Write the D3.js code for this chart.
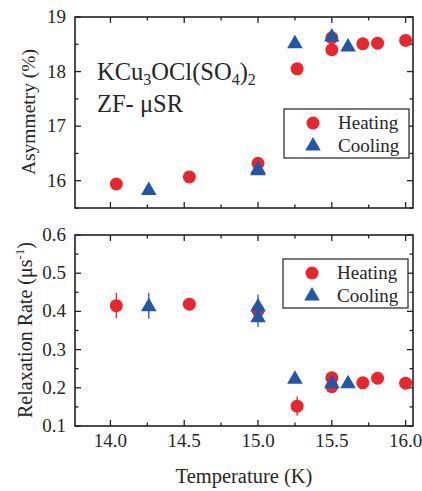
<!DOCTYPE html>
<html>
<head>
<meta charset="utf-8">
<script src="https://cdn.jsdelivr.net/npm/d3@7"></script>
<style>
  body { margin: 0; background: #fff; }
</style>
</head>
<body>
<div id="chart"></div>
<script>
// temperature (K) and measured values
const heatT = [14.04, 14.535, 15.0, 15.265, 15.5, 15.5, 15.71, 15.81, 16.0];
const heatAsym = [15.94, 16.07, 16.32, 18.05, 18.40, 18.62, 18.51, 18.52, 18.57];
const heatRate = [0.415, 0.419, 0.402, 0.152, 0.203, 0.226, 0.213, 0.225, 0.212];
const heatRateErr = [0.033, 0.004, 0.006, 0.025, 0.006, 0.006, 0.005, 0.005, 0.005];

const coolT = [14.26, 15.0, 15.0, 15.25, 15.5, 15.61];
const coolAsym = [15.84, 16.20, 16.23, 18.53, 18.65, 18.47];
const coolRate = [0.415, 0.414, 0.386, 0.225, 0.213, 0.213];
const coolRateErr = [0.034, 0.03, 0.027, 0.008, 0.01, 0.01];

const xTicks = [14.0, 14.5, 15.0, 15.5, 16.0];
const asymTicks = [16, 17, 18, 19];
const rateTicks = [0.1, 0.2, 0.3, 0.4, 0.5, 0.6];
const legendItems = ["Heating", "Cooling"];

const red = "#e8262c", blue = "#2356a6";

const svg = d3.select("#chart").append("svg")
  .attr("width", 422).attr("height", 491)
  .attr("font-family", "Liberation Serif, serif")
  .attr("fill", "#262626");

const x = d3.scaleLinear().domain([13.76, 16.05]).range([75, 413]);
const yTop = d3.scaleLinear().domain([15.5, 19]).range([208, 17]);
const yBot = d3.scaleLinear().domain([0.1, 0.6]).range([426, 235]);

const tri = d3.symbol().type(d3.symbolTriangle).size(105);

function panel(y, yTicks, yMinor, fmt, showX) {
  const g = svg.append("g");
  const [y0, y1] = y.range();
  const xMinor = d3.range(13.75, 16.06, 0.25).filter(v => v > 13.76);
  // frame
  g.append("rect").attr("x", 75).attr("y", y1).attr("width", 338).attr("height", y0 - y1)
    .attr("fill", "none").attr("stroke", "#222").attr("stroke-width", 1.6);
  // x ticks (bottom and top, inward)
  xMinor.forEach(v => {
    const major = xTicks.some(t => Math.abs(t - v) < 1e-6);
    const len = major ? 6 : 3.5;
    g.append("line").attr("x1", x(v)).attr("x2", x(v)).attr("y1", y0).attr("y2", y0 - len)
      .attr("stroke", "#222").attr("stroke-width", 1.3);
    g.append("line").attr("x1", x(v)).attr("x2", x(v)).attr("y1", y1).attr("y2", y1 + len)
      .attr("stroke", "#222").attr("stroke-width", 1.3);
  });
  yMinor.forEach(v => {
    const major = yTicks.some(t => Math.abs(t - v) < 1e-6);
    const len = major ? 6 : 3.5;
    g.append("line").attr("x1", 75).attr("x2", 75 + len).attr("y1", y(v)).attr("y2", y(v))
      .attr("stroke", "#222").attr("stroke-width", 1.3);
    g.append("line").attr("x1", 413).attr("x2", 413 - len).attr("y1", y(v)).attr("y2", y(v))
      .attr("stroke", "#222").attr("stroke-width", 1.3);
  });
  yTicks.forEach(v => {
    g.append("text").attr("x", 66).attr("y", y(v) + 6).attr("text-anchor", "end")
      .attr("font-size", 19).text(fmt(v));
  });
  if (showX) {
    xTicks.forEach(v => {
      g.append("text").attr("x", x(v)).attr("y", y0 + 21).attr("text-anchor", "middle")
        .attr("font-size", 19).text(d3.format(".1f")(v));
    });
  }
  return g;
}

function legend(g, bx, by) {
  g.append("rect").attr("x", bx).attr("y", by).attr("width", 125).attr("height", 49)
    .attr("fill", "#fff").attr("stroke", "#222").attr("stroke-width", 1.2);
  g.append("circle").attr("cx", bx + 29).attr("cy", by + 14).attr("r", 6.5).attr("fill", red);
  g.append("path").attr("d", tri).attr("transform", `translate(${bx + 29},${by + 37})`).attr("fill", blue);
  legendItems.forEach((s, i) => {
    g.append("text").attr("x", bx + 54).attr("y", by + 20 + i * 23).attr("font-size", 19).text(s);
  });
}

// ---- top panel: asymmetry
const gTop = panel(yTop, asymTicks, d3.range(15.5, 19.01, 0.5), d3.format("d"), false);
legend(gTop, 284, 109);
gTop.selectAll("circle.h").data(heatT).join("circle").attr("class", "h")
  .attr("cx", d => x(d)).attr("cy", (d, i) => yTop(heatAsym[i])).attr("r", 6.5).attr("fill", red);
gTop.selectAll("path.c").data(coolT).join("path").attr("class", "c")
  .attr("d", tri).attr("fill", blue)
  .attr("transform", (d, i) => `translate(${x(d)},${yTop(coolAsym[i]) + 1})`);

const label = gTop.append("text").attr("x", 97).attr("y", 80).attr("font-size", 24.5);
label.append("tspan").text("KCu");
label.append("tspan").attr("font-size", 16).attr("dy", 5).text("3");
label.append("tspan").attr("dy", -5).text("OCl(SO");
label.append("tspan").attr("font-size", 16).attr("dy", 5).text("4");
label.append("tspan").attr("dy", -5).text(")");
label.append("tspan").attr("font-size", 16).attr("dy", 5).text("2");
gTop.append("text").attr("x", 97).attr("y", 112).attr("font-size", 24.5).text("ZF- \u03bcSR");

gTop.append("text").attr("transform", "translate(35,112) rotate(-90)")
  .attr("text-anchor", "middle").attr("font-size", 19.5).text("Asymmetry (%)");

// ---- bottom panel: relaxation rate
const gBot = panel(yBot, rateTicks, d3.range(0.1, 0.601, 0.05), d3.format(".1f"), true);
legend(gBot, 283, 259);

gBot.selectAll("line.he").data(heatT).join("line").attr("class", "he")
  .attr("x1", d => x(d)).attr("x2", d => x(d))
  .attr("y1", (d, i) => yBot(heatRate[i] - heatRateErr[i]))
  .attr("y2", (d, i) => yBot(heatRate[i] + heatRateErr[i]))
  .attr("stroke", red).attr("stroke-width", 1.3);
gBot.selectAll("line.ce").data(coolT).join("line").attr("class", "ce")
  .attr("x1", d => x(d)).attr("x2", d => x(d))
  .attr("y1", (d, i) => yBot(coolRate[i] - coolRateErr[i]))
  .attr("y2", (d, i) => yBot(coolRate[i] + coolRateErr[i]))
  .attr("stroke", blue).attr("stroke-width", 1.3);

gBot.selectAll("circle.h").data(heatT).join("circle").attr("class", "h")
  .attr("cx", d => x(d)).attr("cy", (d, i) => yBot(heatRate[i])).attr("r", 6.5).attr("fill", red);
gBot.selectAll("path.c").data(coolT).join("path").attr("class", "c")
  .attr("d", tri).attr("fill", blue)
  .attr("transform", (d, i) => `translate(${x(d)},${yBot(coolRate[i]) + 1})`);

const yl = gBot.append("text").attr("transform", "translate(32,330) rotate(-90)")
  .attr("text-anchor", "middle").attr("font-size", 20);
yl.append("tspan").text("Relaxation Rate (\u03bcs");
yl.append("tspan").attr("font-size", 13).attr("dy", -8).text("-1");
yl.append("tspan").attr("dy", 8).text(")");

svg.append("text").attr("x", 244).attr("y", 483).attr("text-anchor", "middle")
  .attr("font-size", 20.5).text("Temperature (K)");
</script>
</body>
</html>
